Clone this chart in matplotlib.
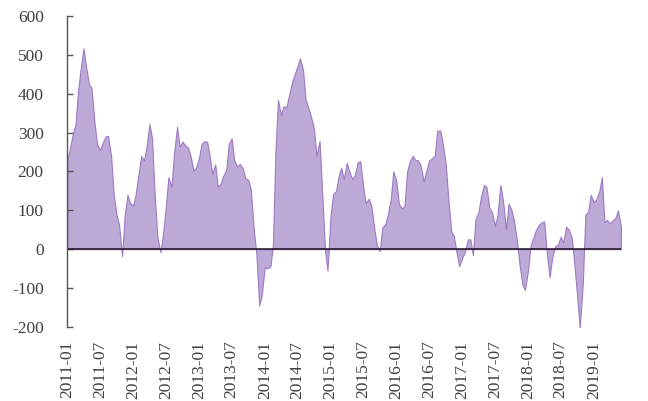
import numpy as np
import pandas as pd
import matplotlib
matplotlib.use("Agg")
import matplotlib.pyplot as plt
import matplotlib.dates as mdates

# semi-monthly readings, 2011-01 .. 2019-06
start = "2011-01-01"
values = [
    230, 258, 298, 320, 405, 460, 517, 470, 425, 415,
    325, 270, 255, 272, 290, 291, 240, 140, 89, 63,
    -18, 85, 140, 119, 112, 140, 195, 240, 228, 262,
    322, 285, 130, 30, -8, 38, 110, 185, 160, 245,
    315, 264, 277, 268, 261, 240, 202, 209, 235, 271,
    278, 276, 240, 193, 218, 161, 168, 188, 204, 270,
    285, 230, 212, 220, 208, 183, 178, 155, 50, -10,
    -145, -118, -46, -50, -45, 10, 250, 384, 345, 368,
    365, 395, 430, 449, 470, 491, 462, 386, 362, 340,
    310, 240, 278, 150, 0, -55, 85, 142, 150, 188,
    210, 180, 222, 200, 180, 190, 224, 226, 161, 118,
    130, 112, 52, 10, -5, 55, 65, 90, 127, 200,
    175, 117, 105, 110, 200, 225, 240, 230, 228, 215,
    174, 200, 228, 233, 240, 305, 305, 270, 221, 133,
    45, 35, -10, -44, -22, -8, 25, 25, -15, 76,
    95, 135, 165, 161, 105, 95, 60, 85, 165, 125,
    52, 117, 101, 74, 20, -40, -92, -105, -55, 8,
    32, 50, 62, 68, 71, -10, -72, -22, 8, 10,
    32, 17, 58, 50, 30, -38, -122, -203, -90, 88,
    97, 140, 120, 128, 150, 185, 70, 75, 66, 74,
    80, 100, 58,
]
tick_dates = pd.date_range("2011-01-01", "2019-01-01", freq="6MS")
y_ticks = [-200, -100, 0, 100, 200, 300, 400, 500, 600]

dates = pd.date_range(start, periods=len(values), freq="SMS")
vals = np.array(values, dtype=float)

plt.rcParams["font.family"] = ["Liberation Serif", "DejaVu Serif"]
plt.rcParams["axes.unicode_minus"] = False

fig = plt.figure(figsize=(6.48, 4.01), dpi=100)
ax = fig.add_axes([0.1039, 0.185, 0.8544, 0.775])

ax.fill_between(dates, 0, vals, facecolor="#bca9d6", edgecolor="#9c7bc4",
                linewidth=0.8)
ax.axhline(0, color="#1a1020", linewidth=1.1)

ax.set_xlim(dates[0], dates[-1])
ax.set_ylim(-200, 600)
ax.set_yticks(y_ticks)
ax.set_xticks(tick_dates)
ax.xaxis.set_major_formatter(mdates.DateFormatter("%Y-%m"))

for side in ["top", "right", "bottom"]:
    ax.spines[side].set_visible(False)
ax.spines["left"].set_color("#555555")
ax.spines["left"].set_linewidth(1.0)

ax.tick_params(axis="y", direction="in", length=4, width=1.0,
               color="#555555", labelsize=12.5, labelcolor="#404040", pad=17)
ax.tick_params(axis="x", length=0, labelsize=12.5, labelcolor="#404040",
               pad=10, labelrotation=90)

fig.savefig("out.png", dpi=100)
